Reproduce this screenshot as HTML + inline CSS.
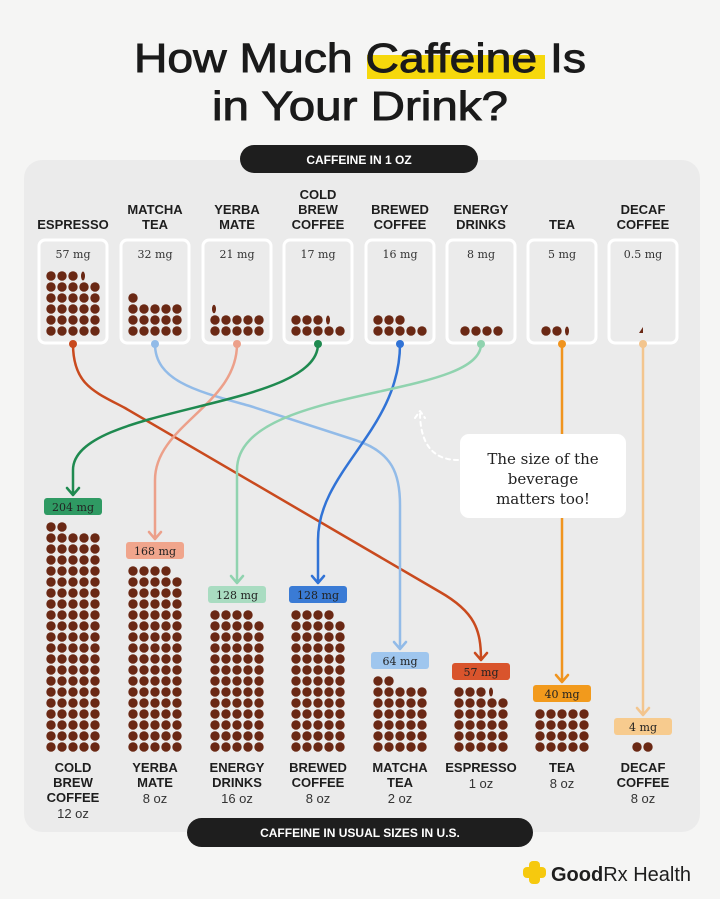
<!DOCTYPE html>
<html><head><meta charset="utf-8"><style>
html,body{margin:0;padding:0;background:#f5f5f4;}
svg{display:block;}
.lab{font-family:"Liberation Sans",sans-serif;font-weight:bold;font-size:13px;fill:#1e1e1e;text-anchor:middle;}
.oz{font-family:"Liberation Sans",sans-serif;font-size:13px;fill:#333;text-anchor:middle;}
.mg{font-family:"DejaVu Serif","Liberation Serif",serif;font-size:11px;fill:#333;text-anchor:middle;}
.pm{font-family:"DejaVu Serif","Liberation Serif",serif;font-size:11px;fill:#222;text-anchor:middle;}
</style></head><body>
<svg width="720" height="899" viewBox="0 0 720 899" xmlns="http://www.w3.org/2000/svg">
<defs>
<pattern id="d" width="11" height="11" patternUnits="userSpaceOnUse"><circle cx="5.5" cy="5.5" r="4.7" fill="#6a2814"/></pattern>
</defs>
<rect width="720" height="899" fill="#f5f5f4"/>
<rect x="24" y="160" width="676" height="672" rx="18" fill="#ebebeb"/>
<!-- title -->
<rect x="367" y="55" width="178" height="24" fill="#f6d80c"/>
<g font-family="Liberation Sans,sans-serif" font-size="41" fill="#1a1a1a" stroke="#1a1a1a" stroke-width="0.9" text-anchor="middle">
<text x="360" y="72" textLength="452" lengthAdjust="spacingAndGlyphs">How Much Caffeine Is</text>
<text x="360" y="120" textLength="296" lengthAdjust="spacingAndGlyphs">in Your Drink?</text>
</g>
<rect x="240" y="145" width="238" height="28" rx="14" fill="#1e1e1e"/>
<text x="359" y="164" font-family="Liberation Sans,sans-serif" font-weight="bold" font-size="12" fill="#fff" text-anchor="middle">CAFFEINE IN 1 OZ</text>

<!-- top labels -->
<text class="lab" x="73" y="229">ESPRESSO</text>
<text class="lab" x="155" y="214">MATCHA</text><text class="lab" x="155" y="229">TEA</text>
<text class="lab" x="237" y="214">YERBA</text><text class="lab" x="237" y="229">MATE</text>
<text class="lab" x="318" y="199">COLD</text><text class="lab" x="318" y="214">BREW</text><text class="lab" x="318" y="229">COFFEE</text>
<text class="lab" x="400" y="214">BREWED</text><text class="lab" x="400" y="229">COFFEE</text>
<text class="lab" x="481" y="214">ENERGY</text><text class="lab" x="481" y="229">DRINKS</text>
<text class="lab" x="562" y="229">TEA</text>
<text class="lab" x="643" y="214">DECAF</text><text class="lab" x="643" y="229">COFFEE</text>

<!-- cups -->
<g fill="none" stroke="#fff" stroke-width="3">
<rect x="39" y="240" width="68" height="103" rx="6"/><rect x="121" y="240" width="68" height="103" rx="6"/>
<rect x="203" y="240" width="68" height="103" rx="6"/><rect x="284" y="240" width="68" height="103" rx="6"/>
<rect x="366" y="240" width="68" height="103" rx="6"/><rect x="447" y="240" width="68" height="103" rx="6"/>
<rect x="528" y="240" width="68" height="103" rx="6"/><rect x="609" y="240" width="68" height="103" rx="6"/>
</g>
<text class="mg" x="73" y="258">57 mg</text><text class="mg" x="155" y="258">32 mg</text>
<text class="mg" x="237" y="258">21 mg</text><text class="mg" x="318" y="258">17 mg</text>
<text class="mg" x="400" y="258">16 mg</text><text class="mg" x="481" y="258">8 mg</text>
<text class="mg" x="562" y="258">5 mg</text><text class="mg" x="643" y="258">0.5 mg</text>
<!-- cup dots -->
<g fill="#6a2814">
<g transform="translate(45.5,281.5)"><rect width="55" height="55" fill="url(#d)"/></g>
<circle cx="51" cy="276" r="4.7"/><circle cx="62" cy="276" r="4.7"/><circle cx="73" cy="276" r="4.7"/><ellipse cx="83" cy="276" rx="2" ry="4.5"/>
<g transform="translate(127.5,303.5)"><rect width="55" height="33" fill="url(#d)"/></g>
<circle cx="133" cy="298" r="4.7"/>
<g transform="translate(209.5,314.5)"><rect width="55" height="22" fill="url(#d)"/></g>
<ellipse cx="214" cy="309" rx="2" ry="4.3"/>
<g transform="translate(290.5,325.5)"><rect width="55" height="11" fill="url(#d)"/></g>
<circle cx="296" cy="320" r="4.7"/><circle cx="307" cy="320" r="4.7"/><circle cx="318" cy="320" r="4.7"/><ellipse cx="328" cy="320" rx="2" ry="4.5"/>
<g transform="translate(372.5,325.5)"><rect width="55" height="11" fill="url(#d)"/></g>
<circle cx="378" cy="320" r="4.7"/><circle cx="389" cy="320" r="4.7"/><circle cx="400" cy="320" r="4.7"/>
<circle cx="465" cy="331" r="4.7"/><circle cx="476" cy="331" r="4.7"/><circle cx="487" cy="331" r="4.7"/><circle cx="498" cy="331" r="4.7"/>
<circle cx="546" cy="331" r="4.7"/><circle cx="557" cy="331" r="4.7"/><ellipse cx="567" cy="331" rx="2" ry="4.5"/>
<path d="M639,333 L643,327 L643,333 Z"/>
</g>

<!-- connectors -->
<g fill="none" stroke-width="2.5" stroke-linecap="round" stroke-linejoin="round">
<path stroke="#c94a1e" d="M73,344 C73,385 95,392 125,408 L440,592 C475,612 481,630 481,660 M475,653 L481,660 L487,653"/>
<path stroke="#92bbe8" d="M155,344 C155,382 200,392 250,406 L355,440 C393,452 400,475 400,505 L400,649 M394,642 L400,649 L406,642"/>
<path stroke="#eca08a" d="M237,344 C237,405 155,425 155,480 L155,539 M149,532 L155,539 L161,532"/>
<path stroke="#1f8a50" d="M318,344 C318,410 73,405 73,470 L73,495 M67,488 L73,495 L79,488"/>
<path stroke="#3173d6" d="M400,344 C400,430 318,470 318,540 L318,583 M312,576 L318,583 L324,576"/>
<path stroke="#90d3af" d="M481,344 C481,400 237,385 237,470 L237,583 M231,576 L237,583 L243,576"/>
<path stroke="#f0941e" d="M562,344 L562,682 M556,675 L562,682 L568,675"/>
<path stroke="#f3c58e" d="M643,344 L643,715 M637,708 L643,715 L649,708"/>
<path stroke="#fff" stroke-width="2" stroke-dasharray="4 4" d="M458,460 C430,460 420,440 420,412 M415,418 L420,411 L425,418"/>
</g>
<g>
<circle cx="73" cy="344" r="4" fill="#c94a1e"/><circle cx="155" cy="344" r="4" fill="#92bbe8"/>
<circle cx="237" cy="344" r="4" fill="#eca08a"/><circle cx="318" cy="344" r="4" fill="#1f8a50"/>
<circle cx="400" cy="344" r="4" fill="#3173d6"/><circle cx="481" cy="344" r="4" fill="#90d3af"/>
<circle cx="562" cy="344" r="4" fill="#f0941e"/><circle cx="643" cy="344" r="4" fill="#f3c58e"/>
</g>

<!-- callout -->
<rect x="460" y="434" width="166" height="84" rx="9" fill="#fff"/>
<g font-family="DejaVu Serif,Liberation Serif,serif" font-size="15" fill="#222" text-anchor="middle">
<text x="543" y="464">The size of the</text><text x="543" y="484">beverage</text><text x="543" y="504">matters too!</text>
</g>

<!-- bars -->
<g fill="#6a2814">
<g transform="translate(45.5,532.5)"><rect width="55" height="220" fill="url(#d)"/></g>
<circle cx="51" cy="527" r="4.7"/><circle cx="62" cy="527" r="4.7"/>
<g transform="translate(127.5,576.5)"><rect width="55" height="176" fill="url(#d)"/></g>
<circle cx="133" cy="571" r="4.7"/><circle cx="144" cy="571" r="4.7"/><circle cx="155" cy="571" r="4.7"/><circle cx="166" cy="571" r="4.7"/>
<g transform="translate(209.5,620.5)"><rect width="55" height="132" fill="url(#d)"/></g>
<circle cx="215" cy="615" r="4.7"/><circle cx="226" cy="615" r="4.7"/><circle cx="237" cy="615" r="4.7"/><circle cx="248" cy="615" r="4.7"/>
<g transform="translate(290.5,620.5)"><rect width="55" height="132" fill="url(#d)"/></g>
<circle cx="296" cy="615" r="4.7"/><circle cx="307" cy="615" r="4.7"/><circle cx="318" cy="615" r="4.7"/><circle cx="329" cy="615" r="4.7"/>
<g transform="translate(372.5,686.5)"><rect width="55" height="66" fill="url(#d)"/></g>
<circle cx="378" cy="681" r="4.7"/><circle cx="389" cy="681" r="4.7"/>
<g transform="translate(453.5,697.5)"><rect width="55" height="55" fill="url(#d)"/></g>
<circle cx="459" cy="692" r="4.7"/><circle cx="470" cy="692" r="4.7"/><circle cx="481" cy="692" r="4.7"/><ellipse cx="491" cy="692" rx="2" ry="4.5"/>
<g transform="translate(534.5,708.5)"><rect width="55" height="44" fill="url(#d)"/></g>
<circle cx="637" cy="747" r="4.7"/><circle cx="648" cy="747" r="4.7"/>
</g>
<!-- pills -->
<rect x="44" y="498" width="58" height="17" rx="3" fill="#2f9a63"/><text class="pm" x="73" y="511">204 mg</text>
<rect x="126" y="542" width="58" height="17" rx="3" fill="#f0a58c"/><text class="pm" x="155" y="555">168 mg</text>
<rect x="208" y="586" width="58" height="17" rx="3" fill="#a9dcc1"/><text class="pm" x="237" y="599">128 mg</text>
<rect x="289" y="586" width="58" height="17" rx="3" fill="#3a7bd5"/><text class="pm" x="318" y="599">128 mg</text>
<rect x="371" y="652" width="58" height="17" rx="3" fill="#9fc6ee"/><text class="pm" x="400" y="665">64 mg</text>
<rect x="452" y="663" width="58" height="17" rx="3" fill="#d9542c"/><text class="pm" x="481" y="676">57 mg</text>
<rect x="533" y="685" width="58" height="17" rx="3" fill="#f29a1c"/><text class="pm" x="562" y="698">40 mg</text>
<rect x="614" y="718" width="58" height="17" rx="3" fill="#f7cb8e"/><text class="pm" x="643" y="731">4 mg</text>

<!-- bottom labels -->
<text class="lab" x="73" y="772">COLD</text><text class="lab" x="73" y="787">BREW</text><text class="lab" x="73" y="802">COFFEE</text><text class="oz" x="73" y="818">12 oz</text>
<text class="lab" x="155" y="772">YERBA</text><text class="lab" x="155" y="787">MATE</text><text class="oz" x="155" y="803">8 oz</text>
<text class="lab" x="237" y="772">ENERGY</text><text class="lab" x="237" y="787">DRINKS</text><text class="oz" x="237" y="803">16 oz</text>
<text class="lab" x="318" y="772">BREWED</text><text class="lab" x="318" y="787">COFFEE</text><text class="oz" x="318" y="803">8 oz</text>
<text class="lab" x="400" y="772">MATCHA</text><text class="lab" x="400" y="787">TEA</text><text class="oz" x="400" y="803">2 oz</text>
<text class="lab" x="481" y="772">ESPRESSO</text><text class="oz" x="481" y="788">1 oz</text>
<text class="lab" x="562" y="772">TEA</text><text class="oz" x="562" y="788">8 oz</text>
<text class="lab" x="643" y="772">DECAF</text><text class="lab" x="643" y="787">COFFEE</text><text class="oz" x="643" y="803">8 oz</text>

<rect x="187" y="818" width="346" height="29" rx="14.5" fill="#1e1e1e"/>
<text x="360" y="837" font-family="Liberation Sans,sans-serif" font-weight="bold" font-size="12" fill="#fff" text-anchor="middle">CAFFEINE IN USUAL SIZES IN U.S.</text>

<!-- logo -->
<g fill="#f6c90e"><rect x="529" y="861" width="11" height="23" rx="4"/><rect x="523" y="867" width="23" height="11" rx="4"/></g>
<text x="551" y="881" font-family="Liberation Sans,sans-serif" font-size="20" fill="#1e1e1e"><tspan font-weight="bold">Good</tspan>Rx Health</text>
</svg>
</body></html>
